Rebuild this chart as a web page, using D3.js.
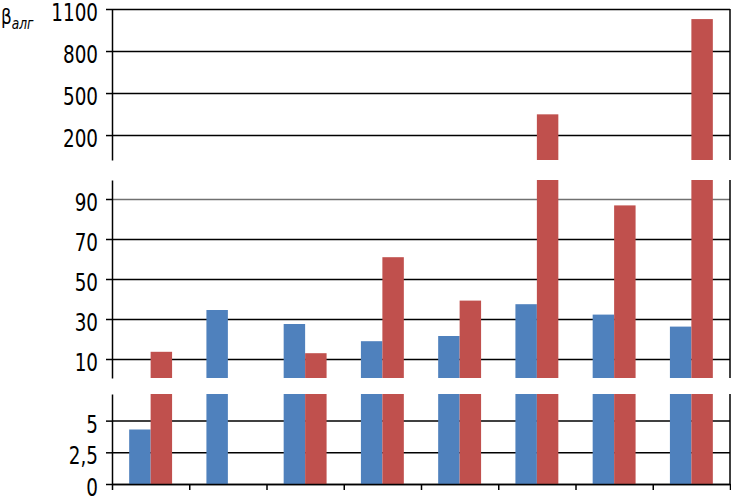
<!DOCTYPE html>
<html>
<head>
<meta charset="utf-8">
<script src="https://cdn.jsdelivr.net/npm/d3@7"></script>
<style>
  body { margin: 0; background: #fff; }
  .lbl text, .title {
    font-family: "DejaVu Sans Condensed", "DejaVu Sans", sans-serif;
    fill: #000;
  }
  .lbl text { font-size: 24px; }
</style>
</head>
<body>
<div id="chart"></div>
<script>
// data
var categories = ['1', '2', '3', '4', '5', '6', '7', '8'];
var series = ['s1', 's2'];
var blueValues = [4.3, 34.5, 27.5, 18.9, 21.5, 37.4, 32.2, 26.2];
var redValues = [13.6, 0, 12.9, 60.9, 39.2, 348, 86.8, 1028];
var topTicks = [200, 500, 800, 1100];
var midTicks = [10, 30, 50, 70, 90];
var lowTicks = [0, 2.5, 5];

(function (d3) {
  'use strict';

  var width = 731, height = 498;
  var left = 112, right = 730, baseY = 484;
  var colors = { s1: '#4f81bd', s2: '#c0504d' };

  // three stacked pieces of one broken value axis
  var panels = [
    { domain: [22, 1100], range: [160, 9], ticks: topTicks, showAbove: 99.5 },
    { domain: [0.5, 99.5], range: [378, 180], ticks: midTicks, showAbove: 7.1 },
    { domain: [0, 7.1], range: [baseY, 394], ticks: lowTicks, showAbove: 0 }
  ];

  var rows = categories.map(function (c, i) {
    return { cat: c, s1: blueValues[i], s2: redValues[i] };
  });

  var svg = d3.select('#chart').append('svg')
    .attr('width', width)
    .attr('height', height);

  var x = d3.scaleBand().domain(categories).range([left, right]);
  var xs = d3.scaleBand().domain(series).range([0, x.bandwidth()]).paddingOuter(0.8);
  var xEdges = d3.scaleLinear().domain([0, categories.length]).range([left, right]);

  var fmt = function (d) { return String(d).replace('.', ','); };

  panels.forEach(function (p) {
    var y = d3.scaleLinear().domain(p.domain).range(p.range).clamp(true);
    var g = svg.append('g');

    // gridlines
    var grid = g.append('g')
      .attr('transform', 'translate(' + left + ',0)')
      .call(d3.axisLeft(y).tickValues(p.ticks).tickSize(-(right - left)).tickFormat(''));
    grid.select('.domain').remove();
    grid.selectAll('line')
      .attr('stroke', function (d) { return d === 90 ? '#707070' : '#000'; })
      .attr('stroke-width', 1.5);

    // bars
    var bars = [];
    rows.forEach(function (r) {
      series.forEach(function (s) {
        if (r[s] > p.showAbove) bars.push({ cat: r.cat, s: s, v: r[s] });
      });
    });
    g.selectAll('rect')
      .data(bars)
      .enter()
      .append('rect')
      .attr('x', function (d) { return x(d.cat) + xs(d.s); })
      .attr('width', xs.bandwidth())
      .attr('y', function (d) { return y(d.v); })
      .attr('height', function (d) { return p.range[0] - y(d.v); })
      .attr('fill', function (d) { return colors[d.s]; });

    // axis with labels
    var ax = g.append('g')
      .attr('class', 'lbl')
      .attr('transform', 'translate(' + left + ',0)')
      .call(d3.axisLeft(y).tickValues(p.ticks).tickSizeInner(6).tickSizeOuter(0).tickFormat(fmt));
    ax.selectAll('line, path').attr('stroke', '#000').attr('stroke-width', 1.5);
    ax.selectAll('text')
      .attr('x', -16.5)
      .attr('dy', '0.48em')
      .attr('transform', 'scale(0.85,1)');

    // right edge
    g.append('line')
      .attr('x1', right).attr('x2', right)
      .attr('y1', p.range[1]).attr('y2', p.range[0])
      .attr('stroke', '#000').attr('stroke-width', 1.5);
  });

  // category axis
  var xa = svg.append('g')
    .attr('transform', 'translate(0,' + baseY + ')')
    .call(d3.axisBottom(xEdges).ticks(categories.length).tickSizeInner(6).tickSizeOuter(0).tickFormat(''));
  xa.selectAll('line, path').attr('stroke', '#000').attr('stroke-width', 1.5);

  // axis title
  var t = svg.append('text')
    .attr('class', 'title')
    .attr('transform', 'translate(1,24) scale(0.85,1)');
  t.append('tspan').style('font-size', '22px').text('β');
  t.append('tspan').attr('dy', 5).style('font-size', '16px').style('font-style', 'italic').text('алг');

})(window.d3);
</script>
</body>
</html>
